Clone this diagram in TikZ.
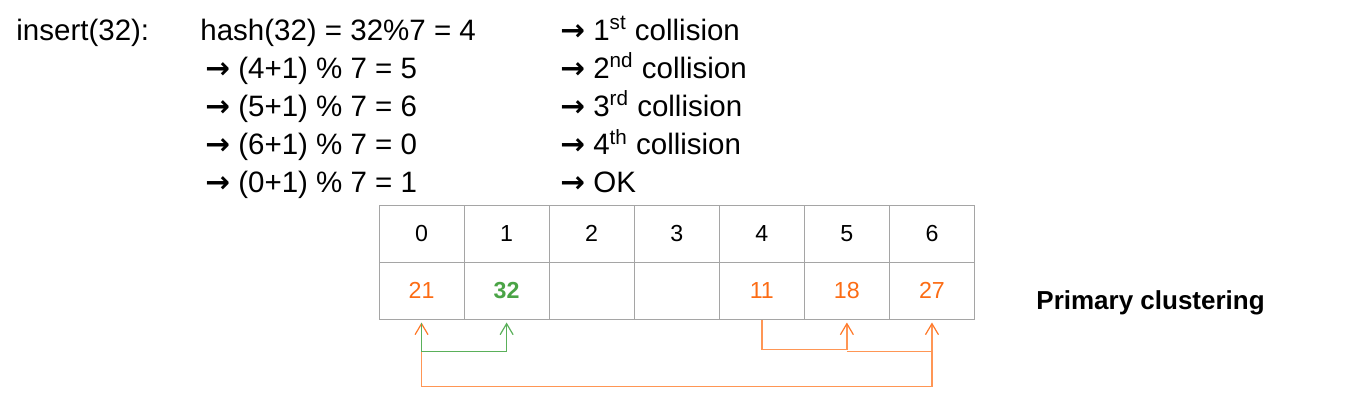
\documentclass[tikz,border=0pt]{standalone}
\usepackage{fontspec}
\setmainfont{Liberation Sans}
\newfontfamily\arrowfont{DejaVu Sans}
\usepackage{tikz}
\usepackage{xcolor}
\usetikzlibrary{arrows.meta}

\definecolor{gridgray}{RGB}{165,165,165}
\definecolor{valorange}{RGB}{252,108,20}
\definecolor{valgreen}{RGB}{74,164,70}
\definecolor{probeorange}{RGB}{255,150,85}
\definecolor{tiporange}{RGB}{255,120,40}
\definecolor{probegreen}{RGB}{90,176,90}

\newcommand{\ra}{{\arrowfont\bfseries\char"2192}}

\tikzset{
  line/.style={anchor=base west, inner sep=0pt, font=\fontsize{14.75}{17}\selectfont},
  cell/.style={draw=gridgray, line width=0.5pt, minimum width=42.54pt, minimum height=28.5pt,
    inner sep=0pt, font=\fontsize{11.6}{13}\selectfont},
  probe/.style={probeorange, line width=0.8pt, shorten >=1.5pt,
    -{Straight Barb[length=5.5pt,width=6.5pt,line width=0.6pt,color=tiporange]}},
  probeok/.style={probegreen, line width=0.8pt, shorten >=1.5pt,
    -{Straight Barb[length=5.5pt,width=6.5pt,line width=0.6pt]}}
}

\begin{document}
\begin{tikzpicture}[x=0.5pt, y=-0.5pt]
\useasboundingbox (0,0) rectangle (1348,414);
% probing steps
\node[line] (ins) at (16,40) {insert(32):};
\node[line] (h0) at (200,40) {hash(32) = 32\%7 = 4};
\node[line] (h1) at (205,78.2) {\ra\ (4+1) \% 7 = 5};
\node[line] (h2) at (205,116.4) {\ra\ (5+1) \% 7 = 6};
\node[line] (h3) at (205,154.6) {\ra\ (6+1) \% 7 = 0};
\node[line] (h4) at (205,192.8) {\ra\ (0+1) \% 7 = 1};
\node[line] (c0) at (560,40) {\ra\ 1\textsuperscript{st} collision};
\node[line] (c1) at (560,78.2) {\ra\ 2\textsuperscript{nd} collision};
\node[line] (c2) at (560,116.4) {\ra\ 3\textsuperscript{rd} collision};
\node[line] (c3) at (560,154.6) {\ra\ 4\textsuperscript{th} collision};
\node[line] (c4) at (560,192.8) {\ra\ OK};
% table
\foreach \i in {0,...,6}
  \node[cell] (idx\i) at ({379+85.07*(\i+0.5)},233.5) {\i};
\node[cell, text=valorange] (val0) at (idx0 |- 0,290.5) {21};
\node[cell, text=valgreen, font=\fontsize{11.6}{13}\selectfont\bfseries] (val1) at (idx1 |- 0,290.5) {32};
\node[cell] (val2) at (idx2 |- 0,290.5) {};
\node[cell] (val3) at (idx3 |- 0,290.5) {};
\node[cell, text=valorange] (val4) at (idx4 |- 0,290.5) {11};
\node[cell, text=valorange] (val5) at (idx5 |- 0,290.5) {18};
\node[cell, text=valorange] (val6) at (idx6 |- 0,290.5) {27};
\node[anchor=base west, inner sep=0pt, font=\fontsize{13}{15}\selectfont\bfseries] (label) at (1036,309.3) {Primary clustering};
% probe sequence
\draw[probe] (val4.south) -- ++(0,30) -| (val5.south);
\draw[probe] ([yshift=-16pt]val5.south) -| (val6.south);
\draw[probe] ([yshift=-16pt]val6.south) -- ++(0,35) -| (val0.south);
\draw[probeok] ([yshift=-1.5pt]val0.south) -- ++(0,29) -| (val1.south);
\end{tikzpicture}
\end{document}
